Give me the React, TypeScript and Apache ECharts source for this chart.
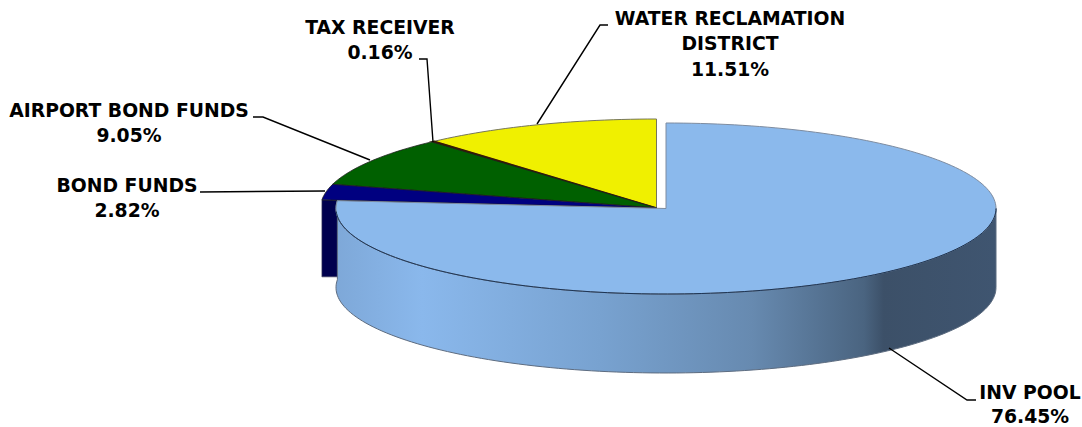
import React, { useEffect, useRef } from "react";
import * as echarts from "echarts";

// Listed clockwise from 12 o'clock; drawn in reverse so the exploded slice sits on top.
const categories = ["INV POOL", "BOND FUNDS", "AIRPORT BOND FUNDS", "TAX RECEIVER", "WATER RECLAMATION\nDISTRICT"];
const values = [76.45, 2.82, 9.05, 0.16, 11.51];
const topColors = ["#8BB9EC", "#000080", "#006000", "#5A2A00", "#F0F000"];
const labelCenters = [[1030, 392], [127, 185], [129, 110], [380, 27], [730, 18]];
const labelLineHeights = [24, 25.5, 25.5, 25.5, 25.5];
const leaders = [
  [[889, 348], [967, 400], [976, 400]],
  [[325, 191], [200, 192]],
  [[370, 160], [263, 117], [253, 117]],
  [[433, 142], [427, 59], [419, 59]],
  [[537, 124], [600, 25], [608, 25]],
];

const TOTAL = values.reduce((a, b) => a + b, 0);
const BACK = { cx: 656.5, cy: 208, rx: 336, ry: 89 };
const POOL = { cx: 666, cy: 208.5, rx: 330, ry: 85.5 };
const DEPTH = 79;
const rad = (d: number) => (d * Math.PI) / 180;

function pt(g: any, deg: number, dy = 0) {
  return [g.cx + g.rx * Math.sin(rad(deg)), g.cy - g.ry * Math.cos(rad(deg)) + dy];
}
function arc(g: any, a0: number, a1: number, dy = 0) {
  const n = Math.max(2, Math.ceil(Math.abs(a1 - a0) / 1.5));
  const out: number[][] = [];
  for (let i = 0; i <= n; i++) out.push(pt(g, a0 + ((a1 - a0) * i) / n, dy));
  return out;
}

const drawOrder = values.map((_, i) => i).reverse();

function renderItem(params: any) {
  const idx = drawOrder[params.dataIndex];
  const start = values.slice(0, idx).reduce((a, b) => a + b, 0) * 3.6 * (100 / TOTAL);
  const end = start + values[idx] * 3.6 * (100 / TOTAL);
  const isPool = idx === 0;
  const g = isPool ? POOL : BACK;
  const centre = [g.cx, g.cy];
  const children: any[] = [];

  if (isPool) {
    const top = arc(g, 90, end);
    const bottom = arc(g, end, 90, DEPTH);
    children.push({
      type: "polygon",
      shape: { points: [...top, ...bottom] },
      style: {
        fill: new echarts.graphic.LinearGradient(0, 0, 1, 0, [
          { offset: 0, color: "#7EA8D8" },
          { offset: 0.13, color: "#8AB8EC" },
          { offset: 0.4, color: "#78A2D0" },
          { offset: 0.63, color: "#678AB0" },
          { offset: 0.8, color: "#4A6480" },
          { offset: 0.83, color: "#3C5068" },
          { offset: 1, color: "#3F5570" },
        ]),
        stroke: "#5D6C80",
        lineWidth: 1,
      },
    });
    children.push({
      type: "polygon",
      shape: { points: [centre, ...arc(g, start, end)] },
      style: { fill: topColors[idx], stroke: "#7E8CA0", lineWidth: 1 },
    });
    children.push({
      type: "polyline",
      shape: { points: arc(g, 90, 268) },
      style: { fill: "none", stroke: "#1C3454", lineWidth: 1 },
    });
  } else {
    if (idx === 1) {
      const corner = pt(g, start);
      const floor = corner[1] + DEPTH - 2;
      children.push({
        type: "polygon",
        shape: { points: [corner, centre, [g.cx, floor], [corner[0], floor]] },
        style: { fill: "#00004E", stroke: "#3A3A55", lineWidth: 0.6 },
      });
    }
    children.push({
      type: "polygon",
      shape: { points: [centre, ...arc(g, start, end)] },
      style: {
        fill: topColors[idx],
        stroke: idx === 4 ? "#77775A" : idx === 3 ? "#3A1A00" : "#1E1E1E",
        lineWidth: idx === 4 ? 1 : idx === 3 ? 1.4 : 0.8,
      },
    });
  }
  return { type: "group", children };
}

export default function App() {
  const ref = useRef<HTMLDivElement>(null);
  useEffect(() => {
    const chart = echarts.init(ref.current!, null, { renderer: "svg" });
    chart.setOption({
      animation: false,
      backgroundColor: "#FFFFFF",
      series: [
        {
          type: "custom",
          coordinateSystem: "none",
          renderItem,
          silent: true,
          z: 2,
          data: drawOrder.map((i) => ({ name: categories[i], value: values[i] })),
        },
      ],
      graphic: [
        ...leaders.map((points) => ({
          type: "polyline",
          z: 3,
          shape: { points },
          style: { fill: "none", stroke: "#000000", lineWidth: 1.4 },
        })),
        ...categories.map((c, i) => ({
          type: "text",
          z: 4,
          x: labelCenters[i][0],
          y: labelCenters[i][1] - labelLineHeights[i] / 2,
          style: {
            text: `${c}\n${values[i].toFixed(2)}%`,
            fontFamily: "DejaVu Sans",
            fontWeight: "bold",
            fontSize: 18.8,
            lineHeight: labelLineHeights[i],
            fill: "#000000",
            align: "center",
            verticalAlign: "top",
          },
        })),
      ],
    });
    return () => chart.dispose();
  }, []);
  return <div ref={ref} style={{ position: "absolute", left: 0, top: 0, width: 1082, height: 427 }} />;
}
